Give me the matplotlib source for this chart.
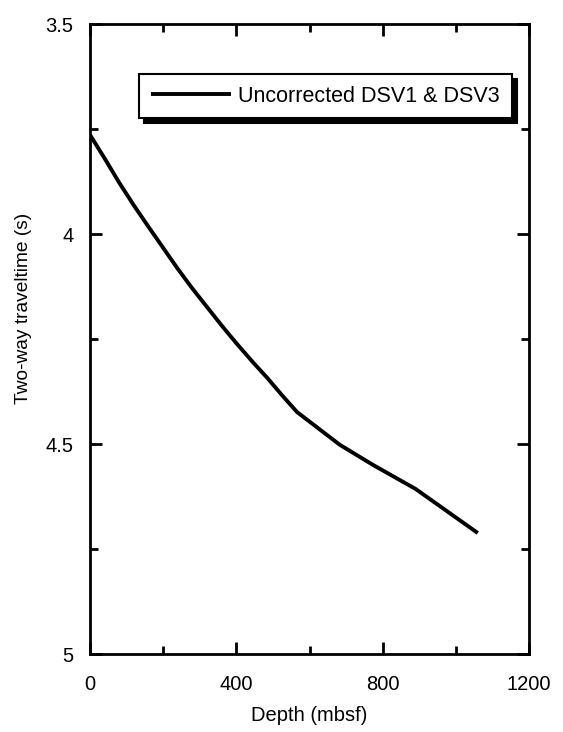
import matplotlib
matplotlib.use("Agg")
import matplotlib.pyplot as plt
from matplotlib.ticker import MultipleLocator

plt.rcParams['font.family'] = ['Liberation Sans', 'DejaVu Sans']

depth = [0, 40, 80, 120, 160, 200, 240, 280, 320, 360, 400, 445, 485, 525, 566, 620, 683, 774, 890, 1060]
twt = [3.764, 3.820, 3.878, 3.932, 3.983, 4.033, 4.083, 4.130, 4.174, 4.218, 4.260, 4.305, 4.343, 4.384, 4.424,
       4.460, 4.502, 4.550, 4.607, 4.712]
series_label = "Uncorrected DSV1 & DSV3"
xticks = [0, 400, 800, 1200]
yticks = [3.5, 4, 4.5, 5]
yticklabels = ["3.5", "4", "4.5", "5"]

fig = plt.figure(figsize=(5.63, 7.32), dpi=100)
ax = fig.add_axes([90/563, 78/732, 439/563, 630/732])

ax.plot(depth, twt, color='black', lw=2.8, label=series_label, solid_capstyle='butt',
        solid_joinstyle='round')

ax.set_xlim(0, 1200)
ax.set_ylim(5, 3.5)
ax.set_xticks(xticks)
ax.set_xticklabels([str(t) for t in xticks])
ax.set_yticks(yticks)
ax.set_yticklabels(yticklabels)
ax.xaxis.set_minor_locator(MultipleLocator(200))
ax.yaxis.set_minor_locator(MultipleLocator(0.25))

for s in ax.spines.values():
    s.set_linewidth(2)
ax.tick_params(which='both', direction='in', top=True, right=True, width=2)
ax.tick_params(which='major', length=8.5, labelsize=14.5)
ax.tick_params(which='minor', length=5.5)
ax.tick_params(axis='x', which='major', pad=15)
ax.tick_params(axis='y', which='major', pad=12)

ax.set_xlabel("Depth (mbsf)", fontsize=14.5, labelpad=9)
ax.set_ylabel("Two-way traveltime (s)", fontsize=13.8)
ax.yaxis.set_label_coords(-0.132, 0.548)

leg = ax.legend(loc='upper right', bbox_to_anchor=(0.961, 0.921), fontsize=15.5,
                frameon=True, fancybox=False, borderaxespad=0, borderpad=0.55,
                handlelength=3.7, handletextpad=0.35,
                shadow={'ox': 3.6, 'oy': -3.6, 'color': 'black', 'alpha': 1})
leg.get_frame().set_edgecolor('black')
leg.get_frame().set_linewidth(1.5)
leg.get_frame().set_alpha(1)

fig.savefig("out.png", dpi=100)
